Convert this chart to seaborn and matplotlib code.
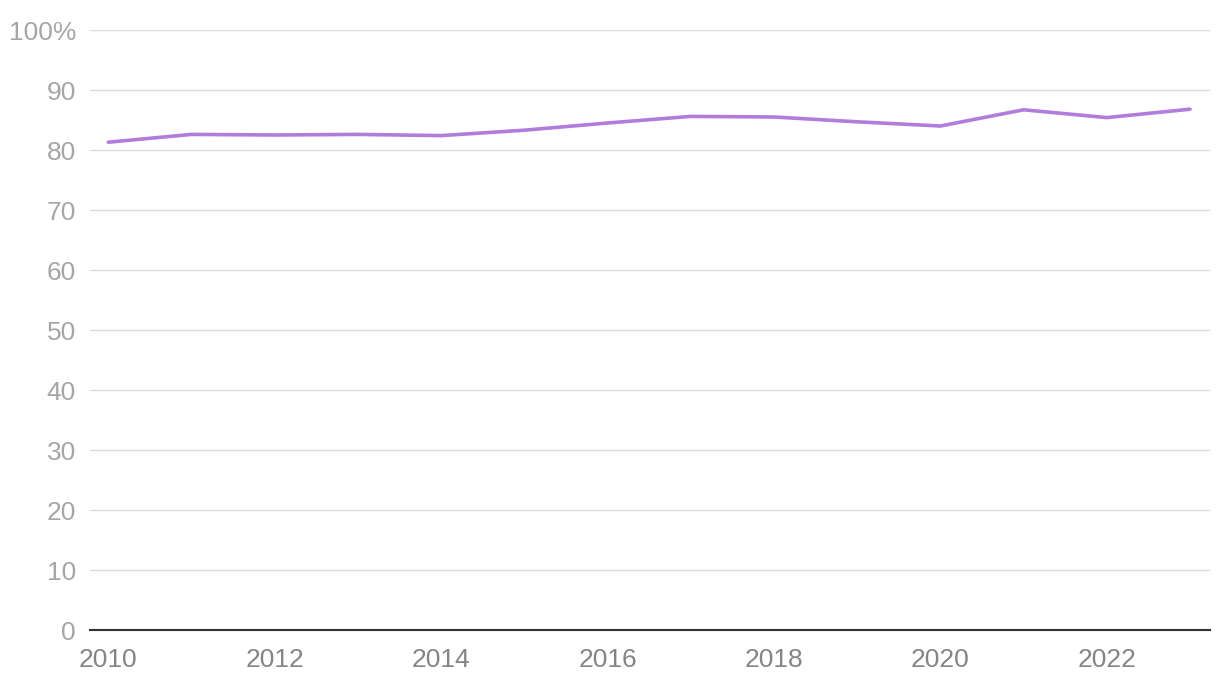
import matplotlib
matplotlib.use("Agg")
import matplotlib.pyplot as plt
import seaborn as sns
import pandas as pd

# values
years = [2010, 2011, 2012, 2013, 2014, 2015, 2016, 2017, 2018, 2019, 2020, 2021, 2022, 2023]
share = [81.3, 82.6, 82.5, 82.6, 82.4, 83.3, 84.5, 85.6, 85.5, 84.7, 84.0, 86.7, 85.4, 86.8]
y_ticks = [0, 10, 20, 30, 40, 50, 60, 70, 80, 90, 100]
y_labels = ["0", "10", "20", "30", "40", "50", "60", "70", "80", "90", "100%"]
x_ticks = [2010, 2012, 2014, 2016, 2018, 2020, 2022]

df = pd.DataFrame({"Year": years, "Share": share})

sns.set_style("white")
plt.rcParams["font.family"] = ["Liberation Sans", "DejaVu Sans"]

fig = plt.figure(figsize=(12.2, 6.88), dpi=100)
ax = fig.add_axes([90 / 1220, 1 - 630 / 688, 1120 / 1220, 600 / 688])

sns.lineplot(data=df, x="Year", y="Share", ax=ax, color="#b07ddc", linewidth=2.6)

ax.set_ylim(0, 100)
ax.set_xlim(2009.78, 2023.24)
ax.set_yticks(y_ticks)
ax.set_yticklabels(y_labels)
ax.set_xticks(x_ticks)
ax.set_xticklabels([str(x) for x in x_ticks])
ax.grid(axis="y", color="#dcdcdc", linewidth=1)
ax.grid(axis="x", visible=False)
ax.set_axisbelow(True)
for s in ["top", "right", "left"]:
    ax.spines[s].set_visible(False)
ax.spines["bottom"].set_color("#333333")
ax.spines["bottom"].set_linewidth(1.5)
ax.tick_params(axis="y", length=0, pad=10, labelsize=19, labelcolor="#a6a6a6")
ax.tick_params(axis="x", length=0, pad=13, labelsize=19, labelcolor="#858585")
ax.set_xlabel("")
ax.set_ylabel("")

fig.savefig("out.png", dpi=100)
